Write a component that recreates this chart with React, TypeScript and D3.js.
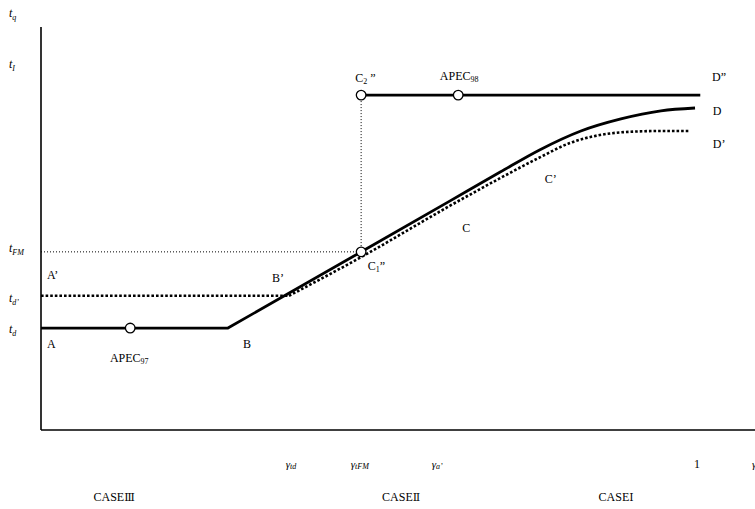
import React from 'react';
import * as d3 from 'd3';

// solid path A-B-C1''-C-D  (gamma, t)
const solidGamma = [0, 0.285, 0.488];
const solidT = [0.253, 0.253, 0.442];
const solidCurveGamma = [0.488, 0.623, 0.7, 0.76, 0.823, 0.884, 0.945, 0.997];
const solidCurveT = [0.442, 0.568, 0.64, 0.695, 0.742, 0.772, 0.792, 0.799];

// dotted path A'-B'-C'-D'
const dottedGamma = [0, 0.378];
const dottedT = [0.333, 0.333];
const dottedCurveGamma = [0.378, 0.488, 0.623, 0.7, 0.761, 0.806, 0.852, 0.898, 0.945, 0.989];
const dottedCurveT = [0.333, 0.429, 0.556, 0.625, 0.677, 0.712, 0.732, 0.74, 0.742, 0.742];

// top line C2''-D''
const topGamma = [0.488, 1.005];
const tI = 0.831;
const tFM = 0.442;

// circles
const circleNames = ['APEC97', 'C1', 'C2', 'APEC98'];
const circleGamma = [0.136, 0.488, 0.488, 0.636];
const circleT = [0.253, 0.442, 0.831, 0.831];

// y axis labels
const yLabels = [
  { main: 't', sub: 'I', v: 0.908 },
  { main: 't', sub: 'FM', v: 0.452 },
  { main: 't', sub: 'd’', v: 0.328 },
  { main: 't', sub: 'd', v: 0.251 },
];

// x axis labels
const xLabels = [
  { main: 'γ', sub: 'td', v: 0.381 },
  { main: 'γ', sub: 'tFM', v: 0.486 },
  { main: 'γ', sub: 'a’', v: 0.604 },
];

const caseLabels = ['Ⅲ', 'Ⅱ', 'Ⅰ'];
const caseGamma = [0.08, 0.52, 0.85];

// point annotations
const notes = [
  { main: 'A’', sub: '', after: '', g: 0.009, t: 0.375 },
  { main: 'A', sub: '', after: '', g: 0.009, t: 0.203 },
  { main: 'APEC', sub: '97', after: '', g: 0.105, t: 0.169 },
  { main: 'B', sub: '', after: '', g: 0.308, t: 0.203 },
  { main: 'B’', sub: '', after: '', g: 0.352, t: 0.367 },
  { main: 'C', sub: '1', after: '”', g: 0.498, t: 0.397 },
  { main: 'C', sub: '', after: '', g: 0.642, t: 0.491 },
  { main: 'C’', sub: '', after: '', g: 0.768, t: 0.613 },
  { main: 'C', sub: '2', after: ' ”', g: 0.479, t: 0.864 },
  { main: 'APEC', sub: '98', after: '', g: 0.608, t: 0.868 },
  { main: 'D”', sub: '', after: '', g: 1.023, t: 0.866 },
  { main: 'D', sub: '', after: '', g: 1.024, t: 0.782 },
  { main: 'D’', sub: '', after: '', g: 1.024, t: 0.7 },
];

const W = 755;
const H = 509;
const font = '"Liberation Serif", "Times New Roman", serif';

export default function App() {
  const x = d3.scaleLinear().domain([0, 1]).range([41, 697]);
  const y = d3.scaleLinear().domain([0, 1]).range([430, 27]);

  const lin = d3.line<[number, number]>().x(d => x(d[0])).y(d => y(d[1]));
  const smooth = d3
    .line<[number, number]>()
    .x(d => x(d[0]))
    .y(d => y(d[1]))
    .curve(d3.curveMonotoneX);

  const zip = (a: number[], b: number[]) => a.map((v, i) => [v, b[i]] as [number, number]);

  return (
    <svg
      width={W}
      height={H}
      style={{ position: 'absolute', left: 0, top: 0, background: '#fff' }}
      fontFamily={font}
    >
      {/* axes */}
      <line x1={x(0)} x2={W} y1={y(0)} y2={y(0)} stroke="#000" strokeWidth={1.6} />
      <line x1={x(0)} x2={x(0)} y1={y(0)} y2={y(1)} stroke="#000" strokeWidth={1.6} />

      {/* thin dotted guides */}
      <line x1={x(0)} x2={x(0.488)} y1={y(tFM)} y2={y(tFM)} stroke="#000" strokeWidth={1} strokeDasharray="1,2" />
      <line x1={x(0.488)} x2={x(0.488)} y1={y(tI)} y2={y(tFM)} stroke="#000" strokeWidth={1} strokeDasharray="1,2" />

      {/* dotted A'-D' */}
      <path d={lin(zip(dottedGamma, dottedT)) || ''} fill="none" stroke="#000" strokeWidth={2.6} strokeDasharray="2.6,2" />
      <path d={smooth(zip(dottedCurveGamma, dottedCurveT)) || ''} fill="none" stroke="#000" strokeWidth={2.6} strokeDasharray="2.6,2" />

      {/* solid A-D */}
      <path d={lin(zip(solidGamma, solidT)) || ''} fill="none" stroke="#000" strokeWidth={2.8} strokeLinejoin="round" />
      <path d={smooth(zip(solidCurveGamma, solidCurveT)) || ''} fill="none" stroke="#000" strokeWidth={2.8} />

      {/* top C2''-D'' */}
      <line x1={x(topGamma[0])} x2={x(topGamma[1])} y1={y(tI)} y2={y(tI)} stroke="#000" strokeWidth={2.8} />

      {circleNames.map((n, i) => (
        <circle key={n} cx={x(circleGamma[i])} cy={y(circleT[i])} r={4.8} fill="#fff" stroke="#000" strokeWidth={1.3} />
      ))}

      {/* y labels */}
      <text x={9} y={17} fontSize={12} fontStyle="italic">
        t<tspan fontSize={8} dy={3}>q</tspan>
      </text>
      {yLabels.map(l => (
        <text key={l.sub} x={9} y={y(l.v) + 4} fontSize={12} fontStyle="italic">
          {l.main}
          <tspan fontSize={8} dy={3}>{l.sub}</tspan>
        </text>
      ))}

      {/* x labels */}
      {xLabels.map(l => (
        <text key={l.sub} x={x(l.v)} y={468} fontSize={11} fontStyle="italic" textAnchor="middle">
          {l.main}
          <tspan fontSize={8} dy={1}>{l.sub}</tspan>
        </text>
      ))}
      <text x={x(1)} y={468} fontSize={12} textAnchor="middle">1</text>
      <text x={752} y={468} fontSize={11} fontStyle="italic">γ</text>

      {caseLabels.map((c, i) => (
        <text key={c} x={x(caseGamma[i])} y={501} fontSize={12}>
          CASE
          <tspan fontFamily={'"DejaVu Serif", "Noto Sans CJK SC", serif'} fontSize={11}>{c}</tspan>
        </text>
      ))}

      {notes.map((n, i) => (
        <text key={i} x={x(n.g)} y={y(n.t)} fontSize={12}>
          {n.main}
          {n.sub && <tspan fontSize={8} dy={2}>{n.sub}</tspan>}
          {n.after && <tspan dy={n.sub ? -2 : 0}>{n.after}</tspan>}
        </text>
      ))}
    </svg>
  );
}
